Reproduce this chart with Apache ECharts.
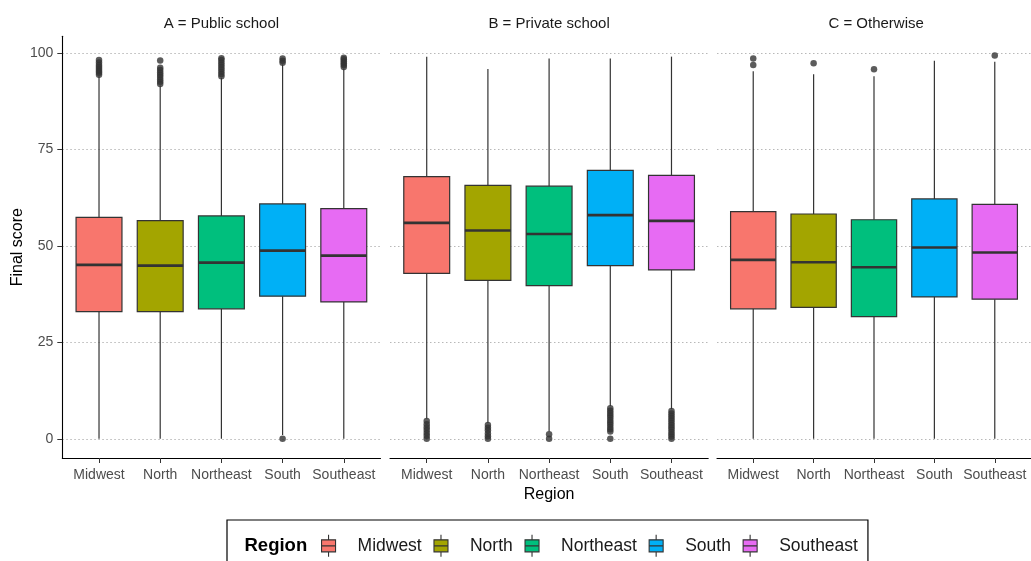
<!DOCTYPE html>
<html>
<head>
<meta charset="utf-8">
<script src="https://cdn.jsdelivr.net/npm/echarts@6/dist/echarts.min.js"></script>
<style>
  html, body { margin: 0; padding: 0; background: #fff; }
  #chart { width: 1031px; height: 561px; }
</style>
</head>
<body>
<div id="chart"></div>
<script>
// Final score by region, faceted by school type
const regions = ['Midwest', 'North', 'Northeast', 'South', 'Southeast'];
const panelTitles = ['A = Public school', 'B = Private school', 'C = Otherwise'];
const regionColors = ['#F8766D', '#A3A500', '#00BF7D', '#00B0F6', '#E76BF3'];
const yTicks = [0, 25, 50, 75, 100];

// Box statistics per region: [lower whisker, Q1, median, Q3, upper whisker]
const publicStats = [
  [0, 33.0, 45.1, 57.4, 94.0],
  [0, 33.0, 44.9, 56.6, 91.6],
  [0, 33.7, 45.7, 57.8, 93.6],
  [1.0, 37.0, 48.8, 60.9, 97.1],
  [0, 35.5, 47.5, 59.7, 96.0]
];
const privateStats = [
  [5.2, 42.9, 56.0, 68.0, 99.1],
  [4.1, 41.1, 54.0, 65.7, 95.9],
  [1.9, 39.7, 53.1, 65.5, 98.6],
  [8.5, 44.9, 58.0, 69.6, 98.6],
  [7.7, 43.8, 56.5, 68.3, 99.1]
];
const otherStats = [
  [0, 33.7, 46.4, 58.9, 95.3],
  [0, 34.1, 45.8, 58.3, 94.5],
  [0, 31.7, 44.5, 56.8, 94.0],
  [0, 36.8, 49.6, 62.2, 98.0],
  [0, 36.2, 48.3, 60.8, 97.8]
];

// Outlying scores per region
const publicOutliers = [
  [94.4, 94.9, 95.4, 95.9, 96.4, 96.9, 97.6, 98.2],
  [92.0, 92.6, 93.2, 93.8, 94.4, 95.0, 95.6, 96.2, 98.1],
  [94.0, 94.6, 95.2, 95.8, 96.4, 97.0, 97.6, 98.2, 98.7],
  [0, 97.5, 98.0, 98.6],
  [96.4, 96.9, 97.4, 97.9, 98.4, 98.8]
];
const privateOutliers = [
  [0, 0.8, 1.5, 2.3, 3.0, 3.8, 4.6],
  [0, 0.7, 1.4, 2.2, 2.9, 3.6],
  [0, 1.2],
  [0, 1.9, 2.5, 3.1, 3.7, 4.3, 4.9, 5.5, 6.1, 6.7, 7.3, 7.9],
  [0, 0.6, 1.2, 1.8, 2.4, 3.0, 3.6, 4.2, 4.8, 5.4, 6.0, 6.6, 7.2]
];
const otherOutliers = [
  [96.9, 98.6],
  [97.4],
  [95.8],
  [],
  [99.4]
];

const panelStats = [publicStats, privateStats, otherStats];
const panelOutliers = [publicOutliers, privateOutliers, otherOutliers];

const FONT = '"Liberation Sans", Arial, Helvetica, sans-serif';
const panelLeft = [62.3, 390, 717];
const panelWidth = 318.2;
const gridTop = 36.3;
const gridHeight = 421.7;

function renderBox(params, api) {
  const x = api.value(0);
  const lo = api.coord([x, api.value(1)]);
  const q1 = api.coord([x, api.value(2)]);
  const md = api.coord([x, api.value(3)]);
  const q3 = api.coord([x, api.value(4)]);
  const hi = api.coord([x, api.value(5)]);
  const w = api.size([0.75, 0])[0];
  const cx = lo[0];
  const color = api.visual('color');
  return {
    type: 'group',
    children: [
      { type: 'line', shape: { x1: cx, y1: lo[1], x2: cx, y2: q1[1] }, style: { stroke: '#333333', lineWidth: 1.2 } },
      { type: 'line', shape: { x1: cx, y1: q3[1], x2: cx, y2: hi[1] }, style: { stroke: '#333333', lineWidth: 1.2 } },
      { type: 'rect', shape: { x: cx - w / 2, y: q3[1], width: w, height: q1[1] - q3[1] },
        style: { fill: color, stroke: '#333333', lineWidth: 1.2 } },
      { type: 'line', shape: { x1: cx - w / 2, y1: md[1], x2: cx + w / 2, y2: md[1] },
        style: { stroke: '#333333', lineWidth: 2.6 } }
    ]
  };
}

const grids = [], xAxes = [], yAxes = [], series = [], graphics = [];

panelTitles.forEach((title, p) => {
  grids.push({ left: panelLeft[p], width: panelWidth, top: gridTop, height: gridHeight, containLabel: false });

  xAxes.push({
    type: 'value', gridIndex: p, min: -0.6, max: 4.6,
    splitLine: { show: false },
    axisLine: { show: true, onZero: false, lineStyle: { color: '#000', width: 1.1 } },
    axisTick: { show: true, length: 5, customValues: [0, 1, 2, 3, 4], lineStyle: { color: '#333', width: 1 } },
    axisLabel: {
      show: true, customValues: [0, 1, 2, 3, 4], margin: 10,
      formatter: v => regions[Math.round(v)],
      fontFamily: FONT, fontSize: 14, color: '#4D4D4D'
    },
    name: p === 1 ? 'Region' : '',
    nameLocation: 'middle', nameGap: 24,
    nameTextStyle: { fontFamily: FONT, fontSize: 16, color: '#000' }
  });

  yAxes.push({
    type: 'value', gridIndex: p, min: -4.97, max: 104.37,
    axisLine: { show: p === 0, onZero: false, lineStyle: { color: '#000', width: 1.1 } },
    axisTick: { show: p === 0, length: 5, customValues: yTicks, lineStyle: { color: '#333', width: 1 } },
    axisLabel: {
      show: p === 0, customValues: yTicks, margin: 9,
      fontFamily: FONT, fontSize: 14, color: '#4D4D4D'
    },
    splitLine: { show: true, lineStyle: { color: '#b8b8b8', width: 1, type: [1.5, 2.5] } },
    name: p === 0 ? 'Final score' : '',
    nameLocation: 'middle', nameGap: 36, nameRotate: 90,
    nameTextStyle: { fontFamily: FONT, fontSize: 16, color: '#000' }
  });

  regions.forEach((name, r) => {
    series.push({
      type: 'custom', name: name, xAxisIndex: p, yAxisIndex: p,
      itemStyle: { color: regionColors[r] },
      renderItem: renderBox,
      encode: { x: 0, y: [1, 2, 3, 4, 5] },
      data: [[r].concat(panelStats[p][r])],
      silent: true
    });
  });

  const pts = [];
  panelOutliers[p].forEach((vals, r) => vals.forEach(v => pts.push([r, v])));
  series.push({
    type: 'scatter', name: 'outliers-' + p, xAxisIndex: p, yAxisIndex: p,
    symbol: 'circle', symbolSize: 6.5,
    itemStyle: { color: '#333333' },
    data: pts, silent: true, z: 3
  });

  graphics.push({
    type: 'text', x: panelLeft[p] + panelWidth / 2, y: 24,
    style: { text: title, align: 'center', verticalAlign: 'middle',
      font: '15px ' + FONT, fill: '#1A1A1A' }
  });
});

graphics.push({
  type: 'text', x: 244.5, y: 545.5,
  style: { text: 'Region', align: 'left', verticalAlign: 'middle',
    font: 'bold 18.5px ' + FONT, fill: '#000' }
});

const keyIcon = 'path://M0,5H14V17H0Z M7,0V5 M7,17V22 M0,11H14';

const option = {
  animation: false,
  backgroundColor: '#ffffff',
  grid: grids,
  xAxis: xAxes,
  yAxis: yAxes,
  legend: {
    orient: 'horizontal', left: 227, top: 520,
    padding: [14.3, 10, 30, 94],
    borderColor: '#000', borderWidth: 1.2,
    itemWidth: 14, itemHeight: 22, itemGap: 11.7,
    itemStyle: { borderColor: '#333333', borderWidth: 1.1 },
    textStyle: { fontFamily: FONT, fontSize: 17.5, color: '#1A1A1A', padding: [0, 0, 0, 17] },
    data: regions.map(name => ({ name: name, icon: keyIcon })),
    selectedMode: false
  },
  graphic: graphics,
  series: series
};

const chart = echarts.init(document.getElementById('chart'), null, { renderer: 'canvas' });
chart.setOption(option);
</script>
</body>
</html>
